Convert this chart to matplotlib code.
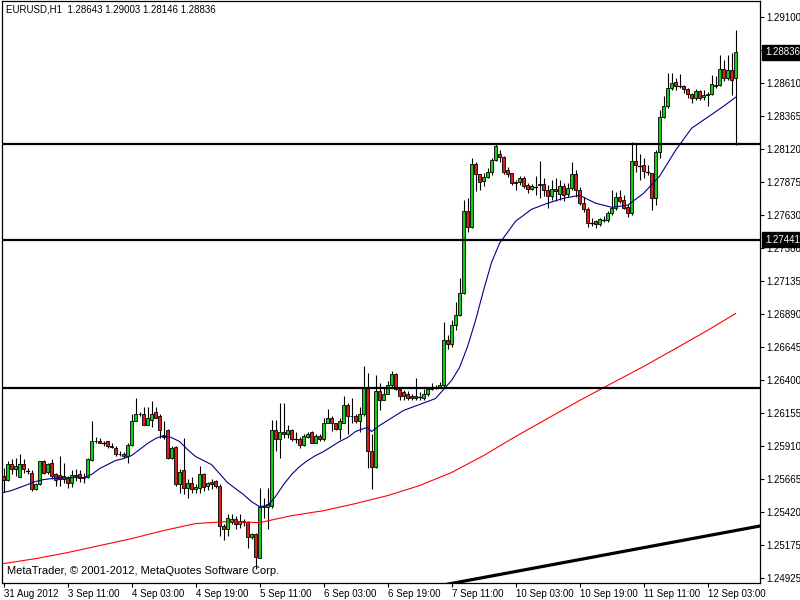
import numpy as np
import matplotlib.pyplot as plt
from matplotlib.patches import Rectangle
from matplotlib.transforms import blended_transform_factory

# EURUSD H1 bars, 31 Aug 2012 19:00 .. 12 Sep 2012 03:00 (one value per bar)
opens = [
    1.25685, 1.25655, 1.25775, 1.25737, 1.25678, 1.25775, 1.25723, 1.25708, 1.25588, 1.25626,
    1.25790, 1.25715, 1.25782, 1.25700, 1.25693, 1.25663, 1.25670, 1.25633, 1.25693, 1.25700,
    1.25678, 1.25678, 1.25804, 1.25939, 1.25946, 1.25931, 1.25939, 1.25909, 1.25894, 1.25849,
    1.25849, 1.25834, 1.25916, 1.26095, 1.26140, 1.26140, 1.26065, 1.26102, 1.26155, 1.26125,
    1.25983, 1.26028, 1.25819, 1.25901, 1.25626, 1.25723, 1.25596, 1.25633, 1.25588, 1.25596,
    1.25700, 1.25611, 1.25641, 1.25648, 1.25611, 1.25313, 1.25290, 1.25343, 1.25365, 1.25328,
    1.25350, 1.25343, 1.25231, 1.25253, 1.25074, 1.25454, 1.25454, 1.25462, 1.26028, 1.25961,
    1.26006, 1.25998, 1.26028, 1.25961, 1.25961, 1.25916, 1.25976, 1.26006, 1.25931, 1.25983,
    1.25961, 1.26080, 1.26110, 1.26073, 1.26035, 1.26080, 1.26207, 1.26132, 1.26132, 1.26088,
    1.26147, 1.26348, 1.25871, 1.25752, 1.26311, 1.26251, 1.26296, 1.26356, 1.26438, 1.26333,
    1.26304, 1.26289, 1.26274, 1.26281, 1.26274, 1.26266, 1.26296, 1.26326, 1.26341, 1.26348,
    1.26356, 1.26691, 1.26661, 1.26803, 1.26877, 1.27041, 1.27652, 1.27533, 1.28002, 1.27928,
    1.27876, 1.27905, 1.27943, 1.28032, 1.28077, 1.28055, 1.27958, 1.27935, 1.27868, 1.27868,
    1.27898, 1.27846, 1.27816, 1.27838, 1.27846, 1.27853, 1.27809, 1.27764, 1.27816, 1.27779,
    1.27838, 1.27779, 1.27823, 1.27928, 1.27809, 1.27712, 1.27667, 1.27570, 1.27578, 1.27555,
    1.27592, 1.27585, 1.27637, 1.27674, 1.27757, 1.27734, 1.27682, 1.27637, 1.28025, 1.27995,
    1.27995, 1.27950, 1.27935, 1.27749, 1.28092, 1.28352, 1.28434, 1.28568, 1.28613, 1.28583,
    1.28583, 1.28561, 1.28524, 1.28494, 1.28546, 1.28501, 1.28516, 1.28524, 1.28583, 1.28591,
    1.28710, 1.28643, 1.28703, 1.28643,
]
highs = [
    1.25745, 1.25797, 1.25812, 1.25819, 1.25849, 1.25812, 1.25745, 1.25723, 1.25633, 1.25797,
    1.25804, 1.25782, 1.25812, 1.25708, 1.25834, 1.25782, 1.25685, 1.25723, 1.25737, 1.25723,
    1.25708, 1.25819, 1.26088, 1.25976, 1.25968, 1.25946, 1.25946, 1.25931, 1.25909, 1.25871,
    1.25864, 1.25924, 1.26147, 1.26259, 1.26155, 1.26192, 1.26192, 1.26237, 1.26199, 1.26140,
    1.26095, 1.26035, 1.25909, 1.25909, 1.25737, 1.25968, 1.25663, 1.25678, 1.25626, 1.25760,
    1.25708, 1.25641, 1.25663, 1.25655, 1.25626, 1.25328, 1.25402, 1.25402, 1.25387, 1.25402,
    1.25365, 1.25345, 1.25261, 1.25255, 1.25596, 1.25521, 1.25596, 1.26102, 1.26102, 1.26222,
    1.26222, 1.26058, 1.26035, 1.26006, 1.25976, 1.25998, 1.26013, 1.26020, 1.25998, 1.25998,
    1.26110, 1.26184, 1.26132, 1.26080, 1.26110, 1.26281, 1.26222, 1.26259, 1.26147, 1.26192,
    1.26497, 1.26445, 1.25998, 1.26430, 1.26371, 1.26341, 1.26386, 1.26460, 1.26445, 1.26341,
    1.26319, 1.26311, 1.26296, 1.26408, 1.26304, 1.26326, 1.26348, 1.26371, 1.26363, 1.26378,
    1.26825, 1.26728, 1.26840, 1.26974, 1.27153, 1.27734, 1.27749, 1.28047, 1.28017, 1.27928,
    1.27935, 1.27972, 1.28047, 1.28151, 1.28106, 1.28062, 1.27980, 1.27937, 1.27883, 1.27913,
    1.27913, 1.27861, 1.27853, 1.27913, 1.28025, 1.27898, 1.27846, 1.27883, 1.27898, 1.27883,
    1.27861, 1.27861, 1.28017, 1.27958, 1.27831, 1.27757, 1.27682, 1.27600, 1.27585, 1.27600,
    1.27615, 1.27652, 1.27809, 1.27794, 1.27809, 1.27771, 1.27704, 1.28166, 1.28159, 1.28077,
    1.28047, 1.27995, 1.27937, 1.28106, 1.28405, 1.28509, 1.28680, 1.28680, 1.28643, 1.28673,
    1.28591, 1.28568, 1.28531, 1.28561, 1.28554, 1.28554, 1.28539, 1.28665, 1.28658, 1.28814,
    1.28777, 1.28814, 1.28829, 1.29003,
]
lows = [
    1.25566, 1.25648, 1.25700, 1.25685, 1.25678, 1.25708, 1.25700, 1.25574, 1.25581, 1.25618,
    1.25700, 1.25700, 1.25663, 1.25611, 1.25611, 1.25633, 1.25596, 1.25603, 1.25648, 1.25641,
    1.25633, 1.25670, 1.25797, 1.25924, 1.25924, 1.25909, 1.25894, 1.25894, 1.25834, 1.25834,
    1.25819, 1.25782, 1.25909, 1.26088, 1.26125, 1.26058, 1.26058, 1.26043, 1.26110, 1.25968,
    1.25961, 1.25812, 1.25812, 1.25611, 1.25559, 1.25551, 1.25521, 1.25559, 1.25559, 1.25559,
    1.25574, 1.25581, 1.25588, 1.25596, 1.25238, 1.25208, 1.25238, 1.25328, 1.25290, 1.25298,
    1.25313, 1.25149, 1.25216, 1.24992, 1.25070, 1.25372, 1.25290, 1.25447, 1.25871, 1.25819,
    1.25968, 1.25968, 1.25946, 1.25924, 1.25894, 1.25909, 1.25968, 1.25924, 1.25924, 1.25946,
    1.25946, 1.26073, 1.26020, 1.26028, 1.25961, 1.26073, 1.25998, 1.26080, 1.26073, 1.26006,
    1.26132, 1.25745, 1.25588, 1.25745, 1.26170, 1.26244, 1.26289, 1.26348, 1.26319, 1.26244,
    1.26251, 1.26244, 1.26251, 1.26244, 1.26251, 1.26244, 1.26281, 1.26319, 1.26326, 1.26341,
    1.26348, 1.26624, 1.26639, 1.26766, 1.26870, 1.27034, 1.27496, 1.27525, 1.27801, 1.27809,
    1.27838, 1.27898, 1.27920, 1.28025, 1.28017, 1.27928, 1.27905, 1.27846, 1.27809, 1.27846,
    1.27823, 1.27786, 1.27809, 1.27771, 1.27749, 1.27764, 1.27674, 1.27734, 1.27727, 1.27734,
    1.27727, 1.27757, 1.27809, 1.27757, 1.27697, 1.27645, 1.27533, 1.27540, 1.27525, 1.27540,
    1.27570, 1.27570, 1.27622, 1.27660, 1.27712, 1.27667, 1.27607, 1.27622, 1.27943, 1.27883,
    1.27898, 1.27920, 1.27660, 1.27697, 1.28047, 1.28345, 1.28419, 1.28554, 1.28554, 1.28568,
    1.28531, 1.28494, 1.28457, 1.28479, 1.28479, 1.28479, 1.28434, 1.28516, 1.28568, 1.28583,
    1.28621, 1.28628, 1.28516, 1.28146,
]
closes = [
    1.25655, 1.25775, 1.25737, 1.25760, 1.25775, 1.25737, 1.25720, 1.25588, 1.25626, 1.25790,
    1.25708, 1.25775, 1.25685, 1.25655, 1.25663, 1.25685, 1.25633, 1.25693, 1.25685, 1.25670,
    1.25670, 1.25812, 1.25939, 1.25946, 1.25931, 1.25929, 1.25909, 1.25901, 1.25849, 1.25846,
    1.25834, 1.25916, 1.26095, 1.26147, 1.26147, 1.26065, 1.26110, 1.26147, 1.26117, 1.26028,
    1.25976, 1.25819, 1.25894, 1.25626, 1.25715, 1.25596, 1.25633, 1.25588, 1.25603, 1.25700,
    1.25603, 1.25633, 1.25626, 1.25611, 1.25313, 1.25290, 1.25372, 1.25365, 1.25328, 1.25350,
    1.25343, 1.25231, 1.25253, 1.25082, 1.25454, 1.25462, 1.25477, 1.26028, 1.25961, 1.26013,
    1.25998, 1.26028, 1.25961, 1.25958, 1.25916, 1.25983, 1.25998, 1.25931, 1.25983, 1.25961,
    1.26080, 1.26117, 1.26073, 1.26035, 1.26088, 1.26207, 1.26132, 1.26128, 1.26088, 1.26147,
    1.26348, 1.25871, 1.25752, 1.26311, 1.26251, 1.26289, 1.26356, 1.26438, 1.26333, 1.26274,
    1.26281, 1.26266, 1.26266, 1.26266, 1.26272, 1.26296, 1.26326, 1.26341, 1.26348, 1.26356,
    1.26691, 1.26661, 1.26803, 1.26877, 1.27041, 1.27652, 1.27533, 1.28002, 1.27928, 1.27868,
    1.27905, 1.27943, 1.28032, 1.28136, 1.28055, 1.27943, 1.27928, 1.27861, 1.27861, 1.27898,
    1.27838, 1.27816, 1.27838, 1.27836, 1.27853, 1.27809, 1.27764, 1.27816, 1.27801, 1.27838,
    1.27771, 1.27823, 1.27928, 1.27809, 1.27712, 1.27667, 1.27563, 1.27567, 1.27555, 1.27592,
    1.27589, 1.27637, 1.27674, 1.27757, 1.27727, 1.27674, 1.27637, 1.28025, 1.27995, 1.27992,
    1.27950, 1.27948, 1.27749, 1.28092, 1.28352, 1.28434, 1.28568, 1.28606, 1.28583, 1.28581,
    1.28561, 1.28524, 1.28494, 1.28546, 1.28494, 1.28516, 1.28524, 1.28598, 1.28591, 1.28710,
    1.28643, 1.28703, 1.28628, 1.28836,
]

# moving averages at selected bars
fast_ma_bar = [0, 2, 4, 6, 8, 10, 12, 14, 16, 18, 20, 22, 24, 26, 28, 30, 32, 34, 36, 38,
               40, 42, 44, 46, 48, 50, 52, 54, 56, 58, 60, 62, 64, 66, 68, 70, 72, 74, 76,
               78, 80, 82, 84, 86, 88, 90, 91, 92, 94, 96, 100, 104, 108, 110, 112, 114,
               116, 118, 120, 122, 124, 128, 132, 136, 140, 144, 148, 152, 156, 160, 164,
               168, 172, 176, 180, 183]
fast_ma = [1.25559, 1.25574, 1.25596, 1.25618, 1.25641, 1.25655, 1.25663, 1.25667, 1.25670,
           1.25670, 1.25670, 1.25693, 1.25737, 1.25767, 1.25797, 1.25812, 1.25834, 1.25879,
           1.25924, 1.25961, 1.25983, 1.25968, 1.25939, 1.25879, 1.25827, 1.25797, 1.25767,
           1.25700, 1.25633, 1.25588, 1.25544, 1.25491, 1.25454, 1.25462, 1.25529, 1.25618,
           1.25693, 1.25752, 1.25797, 1.25834, 1.25864, 1.25901, 1.25939, 1.25968, 1.26013,
           1.26035, 1.26043, 1.26013, 1.26058, 1.26095, 1.26170, 1.26214, 1.26259, 1.26326,
           1.26393, 1.26490, 1.26646, 1.26840, 1.27064, 1.27272, 1.27414, 1.27578, 1.27667,
           1.27712, 1.27749, 1.27771, 1.27712, 1.27682, 1.27697, 1.27786, 1.27913, 1.28106,
           1.28270, 1.28352, 1.28434, 1.28501]
slow_ma_bar = [0, 8, 16, 24, 32, 40, 48, 56, 64, 72, 80, 88, 96, 104, 112, 120, 128, 136,
               144, 152, 160, 168, 176, 183]
slow_ma = [1.25030, 1.25067, 1.25112, 1.25164, 1.25216, 1.25276, 1.25328, 1.25343, 1.25335,
           1.25387, 1.25424, 1.25477, 1.25536, 1.25611, 1.25708, 1.25834, 1.25976, 1.26110,
           1.26244, 1.26371, 1.26497, 1.26631, 1.26766, 1.26891]

levels = [1.28151, 1.27441, 1.26334]
trend_bar = [100, 190]
trend_price = [1.24816, 1.25315]

xtick_bars = [0, 16, 32, 48, 64, 80, 96, 112, 128, 144, 160, 176]
xtick_labels = ['31 Aug 2012', '3 Sep 11:00', '4 Sep 03:00', '4 Sep 19:00', '5 Sep 11:00',
                '6 Sep 03:00', '6 Sep 19:00', '7 Sep 11:00', '10 Sep 03:00', '10 Sep 19:00',
                '11 Sep 11:00', '12 Sep 03:00']
ytick_labels = ['1.24925', '1.25175', '1.25420', '1.25665', '1.25910', '1.26155', '1.26400',
                '1.26645', '1.26890', '1.27135', '1.27380', '1.27630', '1.27875', '1.28120',
                '1.28365', '1.28610', '', '1.29100']

plt.rcParams['font.family'] = ['Liberation Sans', 'DejaVu Sans']

fig = plt.figure(figsize=(8, 6), dpi=100)
ax = fig.add_axes([2 / 800, 17.3 / 600, 758 / 800, 581.7 / 600])

bull = '#10d010'
bear = '#d81e1e'
for i in range(len(closes)):
    o, h, l, c = opens[i], highs[i], lows[i], closes[i]
    ax.plot([i, i], [l, h], color='black', lw=0.8, zorder=3, solid_capstyle='butt')
    if abs(c - o) < 0.00003:
        ax.plot([i - 0.4, i + 0.4], [c, c], color='black', lw=0.9, zorder=4)
    else:
        ax.add_patch(Rectangle((i - 0.38, min(o, c)), 0.76, abs(c - o),
                               facecolor=bull if c > o else bear,
                               edgecolor='black', lw=0.6, zorder=4))

ax.plot(fast_ma_bar, fast_ma, color='#00008b', lw=0.8, zorder=5)
ax.plot(slow_ma_bar, slow_ma, color='#ff0000', lw=0.8, zorder=5)

for p in levels:
    ax.axhline(p, color='black', lw=1.6, zorder=6)
ax.plot(trend_bar, trend_price, color='black', lw=2.3, zorder=6, solid_capstyle='butt')

ax.set_xlim(-0.375, 189.1)
ax.set_ylim(1.24888, 1.29217)

ax.set_xticks(xtick_bars)
ax.set_xticklabels(xtick_labels, ha='left')
ax.set_yticks(np.linspace(1.24925, 1.29100, 18))
ax.set_yticklabels(ytick_labels)
ax.yaxis.tick_right()
ax.tick_params(axis='both', direction='out', length=3, width=0.8, labelsize=7,
               colors='black', pad=1.5)
for s in ax.spines.values():
    s.set_linewidth(0.9)

# price tags on the right scale
tr = blended_transform_factory(ax.transAxes, ax.transData)
for p, txt in [(1.28836, '1.28836'), (levels[1], '1.27441')]:
    ax.text(1.0065, p, txt, transform=tr, ha='left', va='center', fontsize=7,
            color='white', zorder=10, clip_on=False,
            bbox=dict(boxstyle='square,pad=0.25', facecolor='black', edgecolor='black'))

fig.text(6 / 800, 1 - 10 / 600, 'EURUSD,H1  1.28643 1.29003 1.28146 1.28836',
         ha='left', va='center', fontsize=7)
ax.text(5 / 758, 0.012, 'MetaTrader, © 2001-2012, MetaQuotes Software Corp.',
        transform=ax.transAxes, ha='left', va='bottom', fontsize=8, zorder=10)

fig.savefig('out.png', dpi=100, facecolor='white')
